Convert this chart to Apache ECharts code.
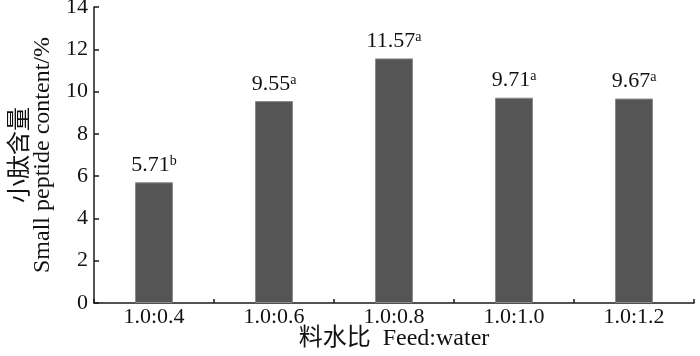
<!DOCTYPE html>
<html>
<head>
<meta charset="utf-8">
<script src="https://cdn.jsdelivr.net/npm/echarts@6/dist/echarts.min.js"></script>
<style>html,body{margin:0;padding:0;background:#fff}#c{width:700px;height:356px}</style>
</head>
<body>
<div id="c"></div>
<script>
const categories = ['1.0:0.4', '1.0:0.6', '1.0:0.8', '1.0:1.0', '1.0:1.2'];
const values = [5.71, 9.55, 11.57, 9.71, 9.67];
const letters = ['b', 'a', 'a', 'a', 'a'];
const yTicks = [0, 2, 4, 6, 8, 10, 12, 14];

const serif = '"Liberation Serif", "Noto Sans CJK SC", serif';
const chart = echarts.init(document.getElementById('c'));
chart.setOption({
  animation: false,
  grid: {left: 94, right: 6, top: 7, bottom: 53, containLabel: false, outerBoundsMode: 'none'},
  xAxis: {
    type: 'category',
    data: categories,
    name: '料水比  Feed:water',
    nameLocation: 'middle',
    nameGap: 24,
    nameMoveOverlap: false,
    nameTextStyle: {fontFamily: serif, fontSize: 24, color: '#111'},
    axisLine: {lineStyle: {color: '#1a1a1a', width: 1.5}},
    axisTick: {show: true, inside: true, length: 4, alignWithLabel: false, lineStyle: {color: '#1a1a1a', width: 1.5}},
    axisLabel: {fontFamily: serif, fontSize: 22, color: '#111', margin: 3}
  },
  yAxis: {
    type: 'value',
    min: yTicks[0],
    max: yTicks[yTicks.length - 1],
    interval: 2,
    name: '小肽含量\nSmall peptide content/%',
    nameLocation: 'middle',
    nameGap: 40,
    nameMoveOverlap: false,
    nameTextStyle: {fontFamily: serif, fontSize: 24, color: '#111', lineHeight: 22},
    splitLine: {show: false},
    axisLine: {show: true, lineStyle: {color: '#1a1a1a', width: 1.5}},
    axisTick: {show: true, inside: true, length: 5, lineStyle: {color: '#1a1a1a', width: 1.5}},
    axisLabel: {fontFamily: serif, fontSize: 22, color: '#111', margin: 6}
  },
  series: [{
    type: 'bar',
    data: values,
    barWidth: 38,
    itemStyle: {color: '#555555', borderColor: '#8a8a8a', borderWidth: 1},
    label: {
      show: true,
      position: 'top',
      distance: 6,
      formatter: p => '{v|' + p.value.toFixed(2) + '}{s|' + letters[p.dataIndex] + '}',
      rich: {
        v: {fontFamily: serif, fontSize: 22, color: '#111', lineHeight: 22},
        s: {fontFamily: serif, fontSize: 14, color: '#111', lineHeight: 22, verticalAlign: 'top', padding: [0, 0, 9, 0]}
      }
    }
  }]
});
</script>
</body>
</html>
